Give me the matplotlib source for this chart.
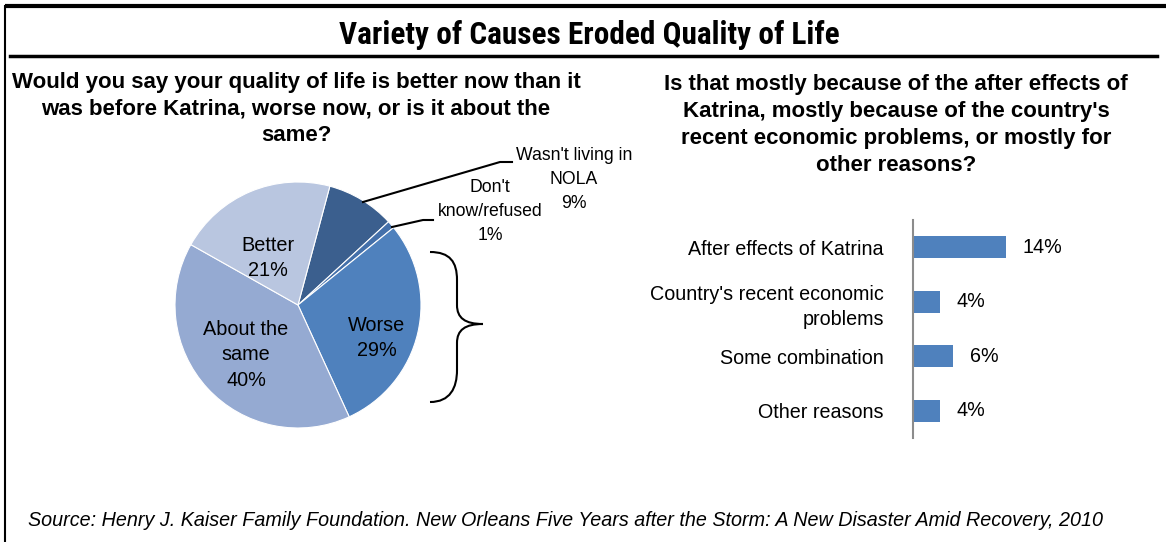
import matplotlib.pyplot as plt
from matplotlib.path import Path
from matplotlib.patches import PathPatch

# quality of life vs. before Katrina (pie, clockwise from the top)
pie_labels = ["Wasn't living in\nNOLA", "Don't\nknow/refused", "Worse", "About the\nsame", "Better"]
pie_values = [9, 1, 29, 40, 21]
pie_colors = ["#3B5F8E", "#4470AA", "#4F81BD", "#95AAD2", "#B9C6E0"]

# reasons among those saying "worse"
reasons = ["After effects of Katrina", "Country's recent economic\nproblems",
           "Some combination", "Other reasons"]
reason_pct = [14, 4, 6, 4]

plt.rcParams['font.family'] = ['Liberation Sans', 'DejaVu Sans']

W, H = 1166, 542
fig = plt.figure(figsize=(W / 100, H / 100), dpi=100)

# full-figure axes in pixel units (y downwards) for frame and annotations, kept on top
bg = fig.add_axes([0, 0, 1, 1])
bg.set_xlim(0, W)
bg.set_ylim(H, 0)
bg.axis('off')
bg.set_zorder(5)
bg.patch.set_visible(False)

bg.plot([5, W], [6, 6], color='black', lw=3, solid_capstyle='butt')
bg.plot([5, 5], [6, H], color='black', lw=1.5)
bg.plot([10, 1157], [56, 56], color='black', lw=2.5)

bg.text(589, 35, "Variety of Causes Eroded Quality of Life", ha='center', va='center',
        fontsize=22.5, fontweight='bold', family=['Roboto Condensed', 'Liberation Sans'])
bg.text(296, 109, "Would you say your quality of life is better now than it\n"
        "was before Katrina, worse now, or is it about the\nsame?",
        ha='center', va='center', fontsize=16, fontweight='bold', linespacing=1.36)
bg.text(896, 125, "Is that mostly because of the after effects of\n"
        "Katrina, mostly because of the country's\nrecent economic problems, or mostly for\n"
        "other reasons?", ha='center', va='center', fontsize=16, fontweight='bold',
        linespacing=1.36)

bg.text(28, 521, "Source: Henry J. Kaiser Family Foundation. New Orleans Five Years after the Storm: "
        "A New Disaster Amid Recovery, 2010", ha='left', va='center', fontsize=14.2,
        style='italic')

# pie
cx, cy, r = 298, 305, 123
box = 130
pax = fig.add_axes([(cx - box) / W, (H - cy - box) / H, 2 * box / W, 2 * box / H])
pax.pie(pie_values, colors=pie_colors, startangle=75, counterclock=False,
        wedgeprops=dict(edgecolor='white', linewidth=0.8))
pax.set_xlim(-box / r, box / r)
pax.set_ylim(-box / r, box / r)
pax.patch.set_visible(False)

inside = {"Better": (268, 258), "About the\nsame": (246, 355), "Worse": (377, 338)}
for lab, val in zip(pie_labels, pie_values):
    if lab in inside:
        x, y = inside[lab]
        bg.text(x, y, f"{lab}\n{val}%", ha='center', va='center', fontsize=14.3,
                linespacing=1.45)

# outside labels, one text per line so they sit tight around each other
outside = {0: (574, 156), 1: (490, 187)}
for i, (x, ytop) in outside.items():
    lines = pie_labels[i].split("\n") + [f"{pie_values[i]}%"]
    for k, line in enumerate(lines):
        bg.text(x, ytop + 24 * k, line, ha='center', va='center', fontsize=12.7)
bg.plot([363, 500, 512], [202, 162, 162], color='black', lw=1.5)
bg.plot([392, 423, 433], [227, 220, 220], color='black', lw=1.5)

# curly brace next to the "worse" slice
verts = [(430, 252), (450, 252), (457, 262), (457, 280),
         (457, 305),
         (457, 318), (465, 324), (483, 324),
         (465, 324), (457, 330), (457, 343),
         (457, 370),
         (457, 388), (450, 402), (430, 402)]
codes = [Path.MOVETO, Path.CURVE4, Path.CURVE4, Path.CURVE4,
         Path.LINETO,
         Path.CURVE4, Path.CURVE4, Path.CURVE4,
         Path.CURVE4, Path.CURVE4, Path.CURVE4,
         Path.LINETO,
         Path.CURVE4, Path.CURVE4, Path.CURVE4]
bg.add_patch(PathPatch(Path(verts, codes), facecolor='none', edgecolor='black', lw=1.5))

# bar chart of reasons
x0, y0, y1 = 913, 220, 438
px_per_pct = 93 / 14
bax = fig.add_axes([x0 / W, (H - y1) / H, 200 / W, (y1 - y0) / H])
pos = list(range(len(reasons)))
bars = bax.barh(pos, reason_pct, height=0.4, color="#4F81BD")
bax.set_xlim(0, 200 / px_per_pct)
bax.set_ylim(len(reasons) - 0.5, -0.5)
bax.set_yticks(pos)
bax.set_yticklabels(reasons, fontsize=14.2, linespacing=1.42)
bax.tick_params(axis='y', length=0, pad=21)
bax.set_xticks([])
for s in ['top', 'right', 'bottom']:
    bax.spines[s].set_visible(False)
bax.spines['left'].set_color('#8C8C8C')
bax.spines['left'].set_linewidth(1.5)
bax.patch.set_visible(False)
for p, v in zip(pos, reason_pct):
    bax.text(v + 17 / px_per_pct, p, f"{v}%", ha='left', va='center', fontsize=14.2)

fig.savefig("out.png", dpi=100)
